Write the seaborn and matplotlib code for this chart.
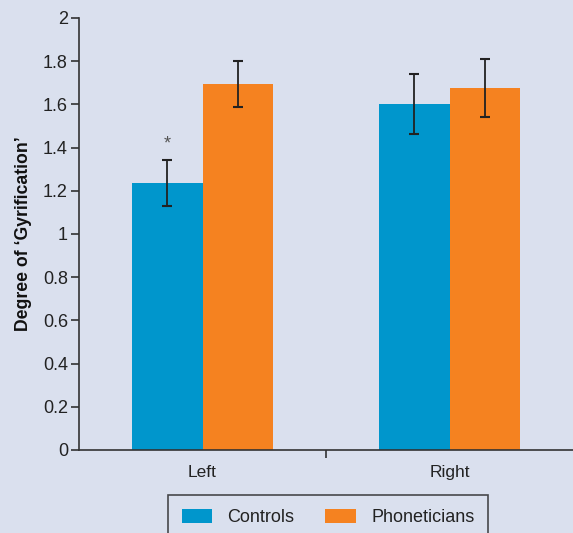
import matplotlib
matplotlib.use("Agg")
import matplotlib.pyplot as plt
import seaborn as sns
import pandas as pd
import numpy as np
from matplotlib.patches import Patch

# Data
hemispheres = ["Left", "Right"]
groups = ["Controls", "Phoneticians"]
controls_vals = [1.235, 1.602]
phoneticians_vals = [1.695, 1.677]
controls_err = [0.106, 0.141]
phoneticians_err = [0.105, 0.134]
y_ticks = [0, 0.2, 0.4, 0.6, 0.8, 1, 1.2, 1.4, 1.6, 1.8, 2]
y_tick_labels = ["0", "0.2", "0.4", "0.6", "0.8", "1", "1.2", "1.4", "1.6", "1.8", "2"]

BG = "#DAE0EE"
BLUE = "#0096CC"
ORANGE = "#F58220"
DARK = "#333333"

df = pd.DataFrame({
    "Hemisphere": hemispheres * 2,
    "Group": [groups[0]] * 2 + [groups[1]] * 2,
    "Value": controls_vals + phoneticians_vals,
    "Err": controls_err + phoneticians_err,
})

sns.set_theme(style="white")
plt.rcParams["font.family"] = ["Liberation Sans", "DejaVu Sans"]

fig = plt.figure(figsize=(5.73, 5.33), dpi=100, facecolor=BG)
ax = fig.add_axes([79 / 573, 83 / 533, 494 / 573, 432 / 533])
ax.set_facecolor(BG)

sns.barplot(data=df, x="Hemisphere", y="Value", hue="Group",
            palette=[BLUE, ORANGE], width=0.569, errorbar=None,
            saturation=1, ax=ax, legend=False, linewidth=0)

# error bars, using the bar positions computed by seaborn
for i, grp in enumerate(groups):
    sub = df[df["Group"] == grp]
    cont = ax.containers[i]
    xs = [p.get_x() + p.get_width() / 2 for p in cont.patches]
    ax.errorbar(xs, sub["Value"].values, yerr=sub["Err"].values, fmt="none",
                ecolor="#222222", elinewidth=1.3, capsize=3.4, capthick=1.5, zorder=5)

# significance star above left controls
left_ctrl = ax.containers[0].patches[0]
ax.text(left_ctrl.get_x() + left_ctrl.get_width() / 2,
        controls_vals[0] + controls_err[0] + 0.035, "*",
        ha="center", va="bottom", fontsize=13, color="#555555")

ax.set_xlim(-0.5, 1.5)
ax.set_ylim(0, 2)
ax.set_yticks(y_ticks)
ax.set_yticklabels(y_tick_labels)
ax.set_xticks([0, 1])
ax.set_xticklabels(hemispheres)
ax.set_xticks([0.5], minor=True)
ax.tick_params(axis="x", which="major", length=0, pad=11, labelsize=12.5, colors="#222222")
ax.tick_params(axis="x", which="minor", length=6, width=1.2, color=DARK, direction="out", bottom=True)
ax.tick_params(axis="y", length=6, width=1.2, color=DARK, direction="out", labelsize=13,
               pad=2, left=True, labelcolor="#222222")

for s in ["top", "right"]:
    ax.spines[s].set_visible(False)
for s in ["left", "bottom"]:
    ax.spines[s].set_color(DARK)
    ax.spines[s].set_linewidth(1.2)

ax.set_xlabel("")
ax.set_ylabel("Degree of \u2018Gyrification\u2019", fontsize=12.7, fontweight="bold",
              color="#111111")
ax.yaxis.set_label_coords(-47 / 494, 0.5)

handles = [Patch(facecolor=BLUE, edgecolor="none"), Patch(facecolor=ORANGE, edgecolor="none")]
leg = fig.legend(handles, groups, loc="upper left", bbox_to_anchor=(168 / 573, 1 - 495 / 533),
                 ncol=2, frameon=True, fancybox=False, fontsize=13,
                 handlelength=1.7, handleheight=0.85, handletextpad=0.85, columnspacing=1.7,
                 borderpad=0.75, borderaxespad=0)
leg.get_frame().set_facecolor(BG)
leg.get_frame().set_edgecolor("#222222")
leg.get_frame().set_linewidth(1.2)
for t in leg.get_texts():
    t.set_color("#222222")

fig.savefig("out.png", dpi=100, facecolor=BG)
